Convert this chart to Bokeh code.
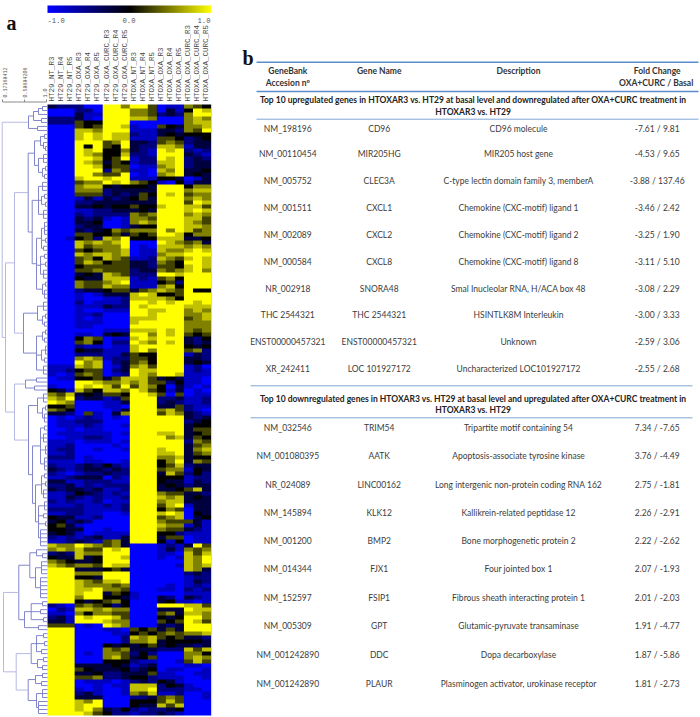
from bokeh.plotting import figure
from bokeh.models import Range1d, ColumnDataSource, LinearColorMapper
from bokeh.core.properties import value
from bokeh.embed import file_html
from bokeh.resources import INLINE
import numpy as np

samples = ["HT29_NT_R3","HT29_NT_R4","HT29_NT_R5","HT29_OXA_R3","HT29_OXA_R4","HT29_OXA_R5",
           "HT29_OXA_CURC_R3","HT29_OXA_CURC_R4","HT29_OXA_CURC_R5","HTOXA_NT_R3","HTOXA_NT_R4","HTOXA_NT_R5",
           "HTOXA_OXA_R3","HTOXA_OXA_R4","HTOXA_OXA_R5","HTOXA_OXA_CURC_R3","HTOXA_OXA_CURC_R4","HTOXA_OXA_CURC_R5"]

# expression level per row, digit d means (d-4)/4 on the -1..1 scale
heat_rows = """
322 200 886 885 011 654
000 220 888 665 031 487
000 311 888 665 232 688
222 310 888 776 000 676
222 544 888 000 000 677
000 545 887 100 543 667
000 776 888 111 332 658
000 787 877 211 343 444
000 787 877 111 554 234
000 888 568 332 565 233
000 848 548 322 776 133
000 878 446 321 878 212
000 876 447 221 888 321
000 887 458 122 878 232
000 876 354 122 778 233
000 887 455 011 678 233
000 888 265 110 768 334
000 886 558 010 678 343
000 788 788 111 443 013
000 566 878 654 104 133
000 677 434 443 888 466
000 666 233 333 888 677
000 555 232 354 878 566
000 131 323 453 888 676
000 223 333 333 888 587
000 334 344 544 788 775
000 112 233 343 888 787
000 212 222 656 888 676
000 323 101 665 888 775
000 334 001 676 888 765
000 233 001 344 888 776
000 323 465 666 868 756
000 554 453 545 887 466
001 452 768 444 777 334
000 767 678 000 876 563
000 756 668 010 777 676
000 545 667 011 766 787
000 767 767 011 677 888
000 564 765 112 765 787
000 576 455 332 654 887
000 455 555 332 554 787
000 556 555 233 656 786
000 343 765 222 887 888
000 433 777 121 564 888
000 655 678 111 452 888
000 655 766 111 674 888
000 233 455 356 765 844
000 101 333 787 445 888
000 100 112 777 764 888
000 201 112 887 878 878
000 111 322 878 888 777
000 100 111 887 788 676
000 112 000 887 888 667
000 101 000 777 888 567
000 111 000 788 888 666
000 110 000 888 888 666
000 000 111 777 878 656
000 110 343 886 878 545
000 465 011 787 888 324
000 564 022 876 878 323
000 211 011 788 888 434
000 433 111 786 888 562
000 222 113 544 888 132
000 676 122 554 888 332
000 867 023 564 888 343
111 767 013 675 888 120
112 455 023 877 888 121
101 565 012 876 887 111
011 445 357 775 343 110
000 887 667 675 524 110
100 878 758 576 403 101
431 754 776 875 413 010
657 343 554 887 505 011
768 233 125 888 223 112
876 000 113 888 232 112
445 000 110 888 335 211
654 000 013 888 675 210
332 051 036 888 576 321
010 121 010 888 888 323
011 222 000 888 888 234
011 121 001 888 888 344
001 011 000 888 888 355
011 111 101 888 778 345
001 122 100 888 867 354
111 011 101 888 888 265
112 000 010 888 888 356
122 001 001 888 788 367
112 000 000 888 778 356
222 010 000 888 667 344
111 011 001 888 468 365
211 232 421 888 457 233
321 233 232 888 566 143
210 122 322 888 375 242
112 333 021 888 444 122
331 122 211 888 433 132
223 121 222 888 343 233
323 323 112 888 334 573
112 432 121 888 655 332
113 212 112 888 767 343
212 112 011 888 677 333
111 211 212 888 578 133
222 211 112 888 465 033
112 211 001 888 787 043
433 112 000 888 567 034
342 320 000 888 655 531
453 100 000 888 766 131
443 300 100 888 655 321
343 101 111 888 442 111
212 123 113 888 355 011
112 321 563 888 414 011
766 876 563 000 121 385
676 755 878 000 131 656
232 766 888 000 110 757
433 734 887 000 101 768
654 334 888 000 000 768
765 665 877 000 001 767
888 333 453 000 000 763
888 666 888 000 000 232
888 443 888 000 000 122
888 765 778 000 000 132
888 766 656 000 010 121
888 778 665 000 110 212
888 788 354 100 000 111
888 688 443 100 320 321
888 434 564 000 341 101
210 565 424 000 888 775
021 776 766 000 333 877
110 646 655 000 563 776
231 878 875 000 434 886
331 888 766 000 545 875
555 010 876 000 323 888
888 000 110 545 353 888
888 000 011 454 565 667
888 000 002 767 545 332
888 000 002 667 344 443
888 000 434 345 343 323
888 000 656 333 222 757
888 010 665 242 000 664
888 000 675 345 000 676
888 000 444 211 001 575
888 333 343 123 000 110
888 543 334 234 011 001
888 334 223 335 110 011
888 556 223 442 111 001
888 011 101 232 431 000
888 001 011 777 243 100
888 101 001 778 222 110
888 231 001 657 112 001
888 333 000 223 565 001
888 768 000 444 575 000
888 788 000 433 757 000
888 786 324 212 234 000
888 875 422 122 321 000
""".split("\n")[1:-1]

cbar_ticks = ["-1.0", "0.0", "1.0"]
scale_labels = ["0.17368412", "0.58684206", "1.0"]

# dendrogram as nested [merge position, children], a bare int being a heatmap row
top_cluster = [28, [[33, [[38, [[42, [0, 1]], 2]], [41, [3, 4]]]], [37, [5, 6]]]]
c1a = [34, [[40, [[44, [7, 8]], [43, [9, [45, [10, 11]]]]]],
            [38, [[43, [12, 13, 14]], [42, [[45, [15, 16]], [44, [17, 18]]]]]]]]
c1b = [31.7, [[38, [[42, [19, 20, 21]], [41, [[44, [22, 23]], [45, [24, 25]]]], [43, [26, 27, 28]]]],
              [36, [[41, [[44, [29, 30, 31, 32]], [45, [33, 34]], [43, [35, 36]]]],
                    [40, [[44, [37, 38]], [45, [39, 40]], [43, [41, 42, 43]]]],
                    [42, [[45, [44, 45]], [44, [46, 47, 48]]]]]]]]
c2 = [23, [[37, [[43, [49, 50, 51]], [42, [[45, [52, 53]], [44, [54, 55]]]]]],
           [36, [[42, [[45, [56, 57]], [44, [58, 59]]]], [41, [[45, [60, 61, 62]], [44, [63, 64]]]], [43, [65, 66, 67]]]]]]
d1 = [25, [[36, [68, 69]], [34, [70, 71]]]]
d2a = [37, [[43, [72, 73, 74]], [42, [[45, [75, 76]], [44, [77, 78, 79]]]]]]
d2b = [32, [[40, [[44, [80, 81]], [43, [82, 83, 84]], [45, [85, 86, 87]], [44, [88, 89, 90, 91]]]],
            [35, [[41, [[44, [92, 93]], [45, [94, 95]], [43, [96, 97, 98]]]],
                  [38, [[44, [99, 100, 101]], [43, [102, 103]], [45, [104, 105]], [40, [106, 107, 108, 109, 110]]]]]]]]
f1 = [29.3, [[36, [111, [42, [112, 113]]]], [35, [[41, [114, 115, 116, 117]], [40, [118, 119, 120, 121, 122, 123]]]]]]
f2 = [24, [[30.7, [[42, [124, 125]], [40, [126, 127]], [43, [128, 129]]]], [38, [130, 131]]]]
g1 = [30.7, [[36, [[43, [132, 133]], [44, [134, 135]], [41, [136, 137]]]], [37, [[43, [138, 139]], [42, [140, 141]]]]]]
g2 = [27.7, [[35, [[42, [142, 143]], [41, [144, 145]]]], [36, [[42, [146, 147, 148]], [38, [149, 150, 151, 152]]]]]]
tree_upper = [1.7, [top_cluster, [5, [[14, [[27.7, [c1a, c1b]], c2]], [14, [d1, [28, [d2a, d2b]]]]]]]]
tree_lower = [3, [[18.3, [f1, f2]], [15.7, [g1, g2]]]]

header = ["GeneBank\nAccesion nº", "Gene Name", "Description", "Fold Change\nOXA+CURC  / Basal"]
section_up = ["Top 10 upregulated genes in HTOXAR3 vs. HT29 at basal level and downregulated after OXA+CURC treatment in", "HTOXAR3 vs. HT29"]
section_down = ["Top 10 downregulated genes in HTOXAR3 vs. HT29 at basal level and upregulated after OXA+CURC treatment in", "HTOXAR3 vs. HT29"]
accession_up = ["NM_198196","NM_00110454","NM_005752","NM_001511","NM_002089","NM_000584","NR_002918","THC 2544321","ENST00000457321","XR_242411"]
gene_up = ["CD96","MIR205HG","CLEC3A","CXCL1","CXCL2","CXCL8","SNORA48","THC 2544321","ENST00000457321","LOC 101927172"]
desc_up = ["CD96 molecule","MIR205 host gene","C-type lectin domain family 3, memberA","Chemokine (CXC-motif) ligand 1","Chemokine (CXC-motif) ligand 2","Chemokine (CXC-motif) ligand 8","Smal Inucleolar RNA, H/ACA box 48","HSINTLK8M Interleukin","Unknown","Uncharacterized LOC101927172"]
fold_up = ["-7.61 / 9.81","-4.53 / 9.65","-3.88 / 137.46","-3.46 / 2.42","-3.25 / 1.90","-3.11 / 5.10","-3.08 / 2.29","-3.00 / 3.33","-2.59 / 3.06","-2.55 / 2.68"]
accession_down = ["NM_032546","NM_001080395","NR_024089","NM_145894","NM_001200","NM_014344","NM_152597","NM_005309","NM_001242890","NM_001242890"]
gene_down = ["TRIM54","AATK","LINC00162","KLK12","BMP2","FJX1","FSIP1","GPT","DDC","PLAUR"]
desc_down = ["Tripartite motif containing 54","Apoptosis-associate tyrosine kinase","Long intergenic non-protein coding RNA 162","Kallikrein-related peptidase 12","Bone morphogenetic protein 2","Four jointed box 1","Fibrous sheath interacting protein 1","Glutamic-pyruvate transaminase","Dopa decarboxylase","Plasminogen activator, urokinase receptor"]
fold_down = ["7.34 / -7.65","3.76 / -4.49","2.75 / -1.81","2.26 / -2.91","2.22 / -2.62","2.07 / -1.93","2.01 / -2.03","1.91 / -4.77","1.87 / -5.86","1.81 / -2.73"]

# layout (page pixels)
HX0, HX1, HY0, HY1 = 47.0, 210.5, 104.0, 715.0
COLS = [287.3, 378.7, 518.0, 656.7]
Y_UP = [128, 153, 180, 207, 234, 261, 288, 314, 341, 368]
Y_DOWN = [427, 455, 484, 512, 540, 568, 597, 625, 654, 683]
TXT = "#3c3c3c"
TFONT = value("Lato")
LINE_BLUE = "#7fa6d8"

p = figure(width=700, height=717, x_range=Range1d(0, 700), y_range=Range1d(717, 0),
           output_backend="svg", toolbar_location=None, min_border=0, outline_line_color=None)
p.axis.visible = False
p.grid.visible = False

def ramp():
    out = []
    for i in range(128):
        out.append("#%02x%02x%02x" % (0, 0, 255 - 2 * i))
    for i in range(128):
        v = i * 2 + 1
        out.append("#%02x%02x%02x" % (v, v, 0))
    return out
mapper = LinearColorMapper(palette=ramp(), low=-1, high=1)

# heatmap
rows = [r.replace(" ", "") for r in heat_rows]
n_r, n_c = len(rows), len(rows[0])
cw, rh = (HX1 - HX0) / n_c, (HY1 - HY0) / n_r
heat = np.array([[(int(d) - 4) / 4 for d in r] for r in rows])
p.image(image=[heat], x=HX0, y=HY0, dw=HX1 - HX0, dh=HY1 - HY0, color_mapper=mapper)
p.segment([HX1 + .6], [HY0], [HX1 + .6], [HY1], line_color="#c9cbee", line_width=1)

# colour bar
grad = np.linspace(-1, 1, 164)[None, :]
p.image(image=[grad], x=HX0, y=5, dw=HX1 - HX0, dh=7.4, color_mapper=mapper)
MONO = value("Liberation Mono")
p.text([47, 122, 197], [20, 20, 20], text=cbar_ticks, text_font=MONO, text_font_size="7.2px",
       text_color="#555555", text_baseline="middle", text_align="left")
# sample labels
p.text([HX0 + (j + .5) * cw for j in range(n_c)], [101] * n_c, text=samples, angle=np.pi / 2, text_font=MONO,
       text_font_size="7.5px", text_color="#4a4a4a", text_baseline="middle", text_align="left")

# dendrogram
seg = {"x0": [], "y0": [], "x1": [], "y1": [], "c": []}
def add(x0, y0, x1, y1):
    seg["x0"].append(x0); seg["y0"].append(y0); seg["x1"].append(x1); seg["y1"].append(y1)
    seg["c"].append("#b7b9e4" if min(x0, x1) < 16 else "#8286cb")
def walk(node):
    if isinstance(node, int):
        return HX0, HY0 + (node + .5) * rh
    h, kids = node
    pts = [walk(k) for k in kids]
    yy = [q[1] for q in pts]
    add(h, min(yy), h, max(yy))
    for kx, ky in pts:
        add(h, ky, kx, ky)
    return h, (min(yy) + max(yy)) / 2
walk(tree_upper); walk(tree_lower)
p.segment("x0", "y0", "x1", "y1", source=ColumnDataSource(seg), line_color="c", line_width=1)

# scale of the dendrogram
p.segment([2, 2, 24, 46], [101.5, 99, 99, 99], [46, 2, 24, 46], [101.5, 101.5, 101.5, 101.5], line_color="#8a8a8a", line_width=1)
p.text([4.5, 24.5, 44], [97, 97, 97], text=scale_labels, angle=np.pi / 2, text_font=MONO, text_font_size="5px",
       text_color="#555555", text_baseline="middle", text_align="left")

# panel letters
p.text([6, 242], [22, 57], text=["a", "b"], text_font=value("Liberation Serif"), text_font_style="bold",
       text_font_size="20px", text_color="#111111", text_baseline="alphabetic")

# table rules
p.segment([256, 256], [61.7, 91], [698, 698], [61.7, 91], line_color="#5b8dcb", line_width=1.6)
p.segment([256, 250, 250], [118.7, 385.3, 417.3], [698, 692, 692], [118.7, 385.3, 417.3], line_color=LINE_BLUE, line_width=1)

def label(x, y, t, **kw):
    p.text(x, y, text=t, text_font=TFONT, text_baseline="middle", text_align="center", **kw)

# headers
hx, hy, ht = [], [], []
for cx, h in zip(COLS, header):
    parts = h.split("\n")
    for k, part in enumerate(parts):
        hx.append(cx); hy.append(70.7 + 11.6 * k); ht.append(part)
label(hx, hy, ht, text_font_size="8.5px", text_font_style="bold", text_color="#333333")
label([472.7] * 2, [99.3, 111], section_up, text_font_size="8.5px", text_font_style="bold", text_color="#222222")
label([472.7] * 2, [398.3, 409.7], section_down, text_font_size="8.5px", text_font_style="bold", text_color="#222222")

for cx, up, down in zip(COLS, [accession_up, gene_up, desc_up, fold_up], [accession_down, gene_down, desc_down, fold_down]):
    label([cx] * len(up), Y_UP, up, text_font_size="8.5px", text_color=TXT)
    label([cx] * len(down), Y_DOWN, down, text_font_size="8.5px", text_color=TXT)

open("out.html", "w").write(file_html(p, INLINE))
